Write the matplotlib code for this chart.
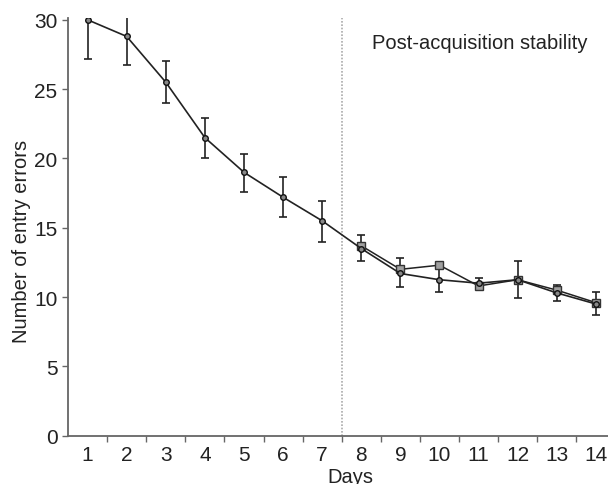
import numpy as np
import matplotlib.pyplot as plt

plt.rcParams['font.family'] = ['Liberation Sans', 'DejaVu Sans']

# acquisition group (circles), days 1-14
days = np.arange(1, 15)
circ_mean = [30.0, 28.8, 25.5, 21.5, 19.0, 17.2, 15.5, 13.5, 11.7, 11.25, 11.0, 11.25, 10.3, 9.5]
circ_lo = [27.2, 26.75, 24.0, 20.0, 17.6, 15.8, 14.0, 12.6, 10.7, 10.4, 10.6, 9.9, 9.7, 8.7]
circ_hi = [30.8, 30.8, 27.0, 22.95, 20.35, 18.65, 16.9, 14.5, 12.8, 12.2, 11.4, 12.6, 10.9, 10.4]

# stability group (squares), days 8-14
sq_days = np.arange(8, 15)
sq_mean = [13.7, 12.0, 12.3, 10.8, 11.25, 10.5, 9.6]

xlabels = [str(d) for d in days]

fig = plt.figure(figsize=(6.08, 4.85), dpi=100)
ax = fig.add_axes([68 / 608, 48.3 / 485, 547.4 / 608, 418 / 485])

circ_mean = np.array(circ_mean)
yerr = [circ_mean - np.array(circ_lo), np.array(circ_hi) - circ_mean]
ax.errorbar(days, circ_mean, yerr=yerr, fmt='none', ecolor='#222222',
            elinewidth=1.2, capsize=3, capthick=1.2, zorder=2)
ax.plot(sq_days, sq_mean, color='#222222', lw=1.1, marker='s', ms=6,
        mfc='#a0a0a0', mec='#333333', mew=1.0, zorder=3)
ax.plot(days, circ_mean, color='#222222', lw=1.2, marker='o', ms=4,
        mfc='#888888', mec='#111111', mew=1.0, zorder=4)

ax.axvline(7.5, color='#aaaaaa', lw=1.2, ls=(0, (1, 1)), zorder=1)
ax.text(0.555, 0.9407, 'Post-acquisition stability', transform=ax.transAxes,
        fontsize=14.5, color='#222222', ha='left', va='center')

ax.set_xlim(0.5, 14.5)
ax.set_ylim(0, 30.15)
ax.set_yticks(range(0, 31, 5))
ax.set_xticks(days)
ax.set_xticklabels(xlabels)
ax.set_xticks(np.arange(1.5, 14.5, 1), minor=True)
ax.tick_params(axis='x', which='major', length=0, labelsize=15, pad=7, colors='#222222')
ax.tick_params(axis='x', which='minor', length=4, width=1, color='#666666')
ax.tick_params(axis='y', length=4, width=1, color='#666666', labelsize=15, labelcolor='#222222')
for s in ['top', 'right']:
    ax.spines[s].set_visible(False)
for s in ['left', 'bottom']:
    ax.spines[s].set_color('#666666')
    ax.spines[s].set_linewidth(1.3)

ax.set_xlabel('Days', fontsize=14.5, labelpad=2, color='#222222')
ax.set_ylabel('Number of entry errors', fontsize=14.5, labelpad=2.4, color='#222222')
ax.xaxis.label.set_x(0.515)
ax.yaxis.label.set_y(0.467)

fig.savefig('out.png', dpi=100)
